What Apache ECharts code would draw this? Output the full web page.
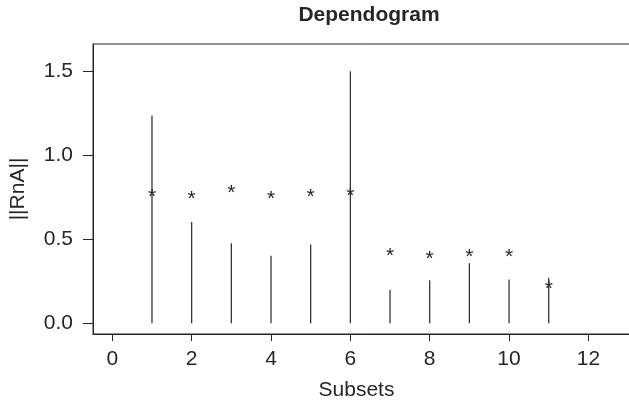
<!DOCTYPE html>
<html lang="en">

<head>
    <meta charset="UTF-8">
    <title>Dependogram</title>
    <script src="https://cdn.jsdelivr.net/npm/echarts@6/dist/echarts.min.js"></script>
    <style>
        html, body { margin: 0; padding: 0; background: #fff; overflow: hidden; }
        /* wider than the window: the plot box runs past the right edge */
        .box { width: 660px; height: 406px; }
    </style>
</head>

<body>
    <div class="box"></div>
</body>

</html>
<script>
    // subsets on the x axis
    var subsets = [1, 2, 3, 4, 5, 6, 7, 8, 9, 10, 11];
    // height of each vertical line
    var stemValues = [1.238, 0.604, 0.477, 0.402, 0.469, 1.501, 0.198, 0.257, 0.358, 0.261, 0.271];
    // position of each asterisk
    var starValues = [0.778, 0.768, 0.804, 0.770, 0.780, 0.786, 0.432, 0.414, 0.426, 0.426, 0.234];
    var xTicks = [0, 2, 4, 6, 8, 10, 12];
    var yTicks = [0, 0.5, 1, 1.5];

    var ink = '#262626';
    var font = 'Liberation Sans, Arial, sans-serif';

    var stemData = [];
    var starData = [];
    for (var i = 0; i < subsets.length; i++) {
        stemData.push([subsets[i], stemValues[i]]);
        starData.push([subsets[i], starValues[i]]);
    }

    var myChart = echarts.init(document.querySelector('.box'));
    var option = {
        animation: false,
        title: {
            text: 'Dependogram',
            left: 364,
            top: 0,
            textAlign: 'center',
            textStyle: { fontFamily: font, fontSize: 21, fontWeight: 'bold', color: ink }
        },
        grid: {
            left: 93, top: 44, bottom: 71, width: 543,
            show: true, borderColor: ink, borderWidth: 1, backgroundColor: 'transparent'
        },
        xAxis: {
            type: 'value',
            min: -0.487,
            max: 13.2,
            name: 'Subsets',
            nameLocation: 'middle',
            nameGap: 46,
            nameTextStyle: { fontFamily: font, fontSize: 21, color: ink, padding: [0, 16, 0, 0] },
            axisLine: { show: true, onZero: false, lineStyle: { color: ink, width: 1 } },
            axisTick: { show: true, length: 7, customValues: xTicks, lineStyle: { color: ink } },
            axisLabel: {
                customValues: xTicks, margin: 15,
                fontFamily: font, fontSize: 21, color: ink
            },
            splitLine: { show: false }
        },
        yAxis: {
            type: 'value',
            min: -0.064,
            max: 1.664,
            name: '||RnA||',
            nameLocation: 'middle',
            nameGap: 64,
            nameTextStyle: { fontFamily: font, fontSize: 21, color: ink },
            axisLine: { show: true, onZero: false, lineStyle: { color: ink, width: 1 } },
            axisTick: { show: true, length: 10, customValues: yTicks, lineStyle: { color: ink } },
            axisLabel: {
                customValues: yTicks, margin: 20,
                fontFamily: font, fontSize: 21, color: ink,
                formatter: function(v) { return v.toFixed(1); }
            },
            splitLine: { show: false }
        },
        series: [{
            type: 'custom',
            data: stemData,
            renderItem: function(params, api) {
                var p0 = api.coord([api.value(0), 0]);
                var p1 = api.coord([api.value(0), api.value(1)]);
                return {
                    type: 'line',
                    shape: { x1: p0[0], y1: p0[1], x2: p1[0], y2: p1[1] },
                    style: { stroke: ink, lineWidth: 1.2 }
                };
            }
        }, {
            type: 'custom',
            data: starData,
            renderItem: function(params, api) {
                var p = api.coord([api.value(0), api.value(1)]);
                return {
                    type: 'text',
                    x: p[0], y: p[1] + 5,
                    style: {
                        text: '*', fill: ink, font: '21px ' + font,
                        align: 'center', verticalAlign: 'middle'
                    }
                };
            }
        }]
    };
    myChart.setOption(option);
</script>
